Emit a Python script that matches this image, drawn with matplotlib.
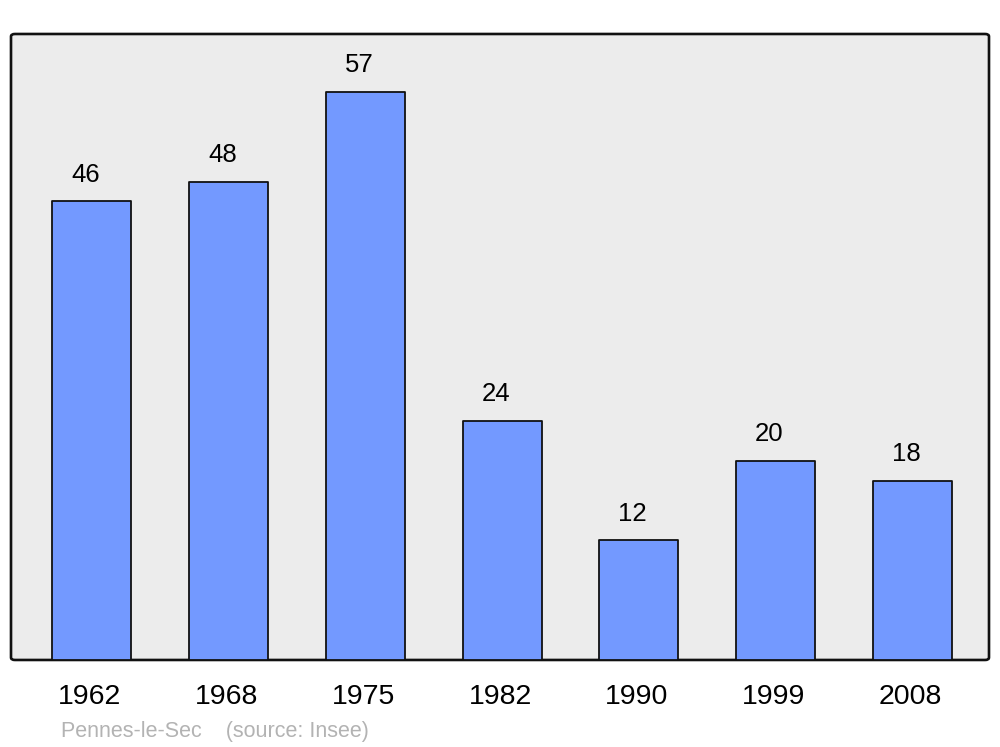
import matplotlib
matplotlib.use("Agg")
import matplotlib.pyplot as plt
from matplotlib.patches import FancyBboxPatch
from matplotlib.transforms import blended_transform_factory

plt.rcParams['font.family'] = ['Liberation Sans', 'DejaVu Sans']

years = ["1962", "1968", "1975", "1982", "1990", "1999", "2008"]
population = [46, 48, 57, 24, 12, 20, 18]
commune = "Pennes-le-Sec"
source = "(source: Insee)"

fig = plt.figure(figsize=(10, 7.47), dpi=100)
ax = fig.add_axes([0.011, 0.1165, 0.978, 0.838])
ax.set_xlim(-0.592, 6.56)
ax.set_ylim(0, 62.8)

# rounded grey frame instead of the normal axes patch
ax.patch.set_visible(False)
for s in ax.spines.values():
    s.set_visible(False)
frame = FancyBboxPatch((0, 0), 1, 1, boxstyle="round,pad=0,rounding_size=0.004",
                       transform=ax.transAxes, facecolor="#ececec", edgecolor="#111111",
                       linewidth=1.9, zorder=0, clip_on=False)
ax.add_patch(frame)

x = list(range(len(years)))
ax.bar(x, population, width=0.578, color="#7399ff", edgecolor="#111111",
       linewidth=1.3, joinstyle="round", zorder=2)

for xi, v in zip(x, population):
    ax.text(xi - 0.045, v + 2.65, str(v), ha="center", va="center", fontsize=18.5, color="black")

trans = blended_transform_factory(ax.transData, ax.transAxes)
for xi, y in zip(x, years):
    ax.text(xi - 0.015, -0.059, y, transform=trans, ha="center", va="center", fontsize=20.5)

ax.set_xticks([])
ax.set_yticks([])

fig.text(0.061, 0.021, commune + "    " + source, ha="left", va="center",
         fontsize=15.5, color="#b3b3b3")

fig.savefig("out.png", dpi=100)
